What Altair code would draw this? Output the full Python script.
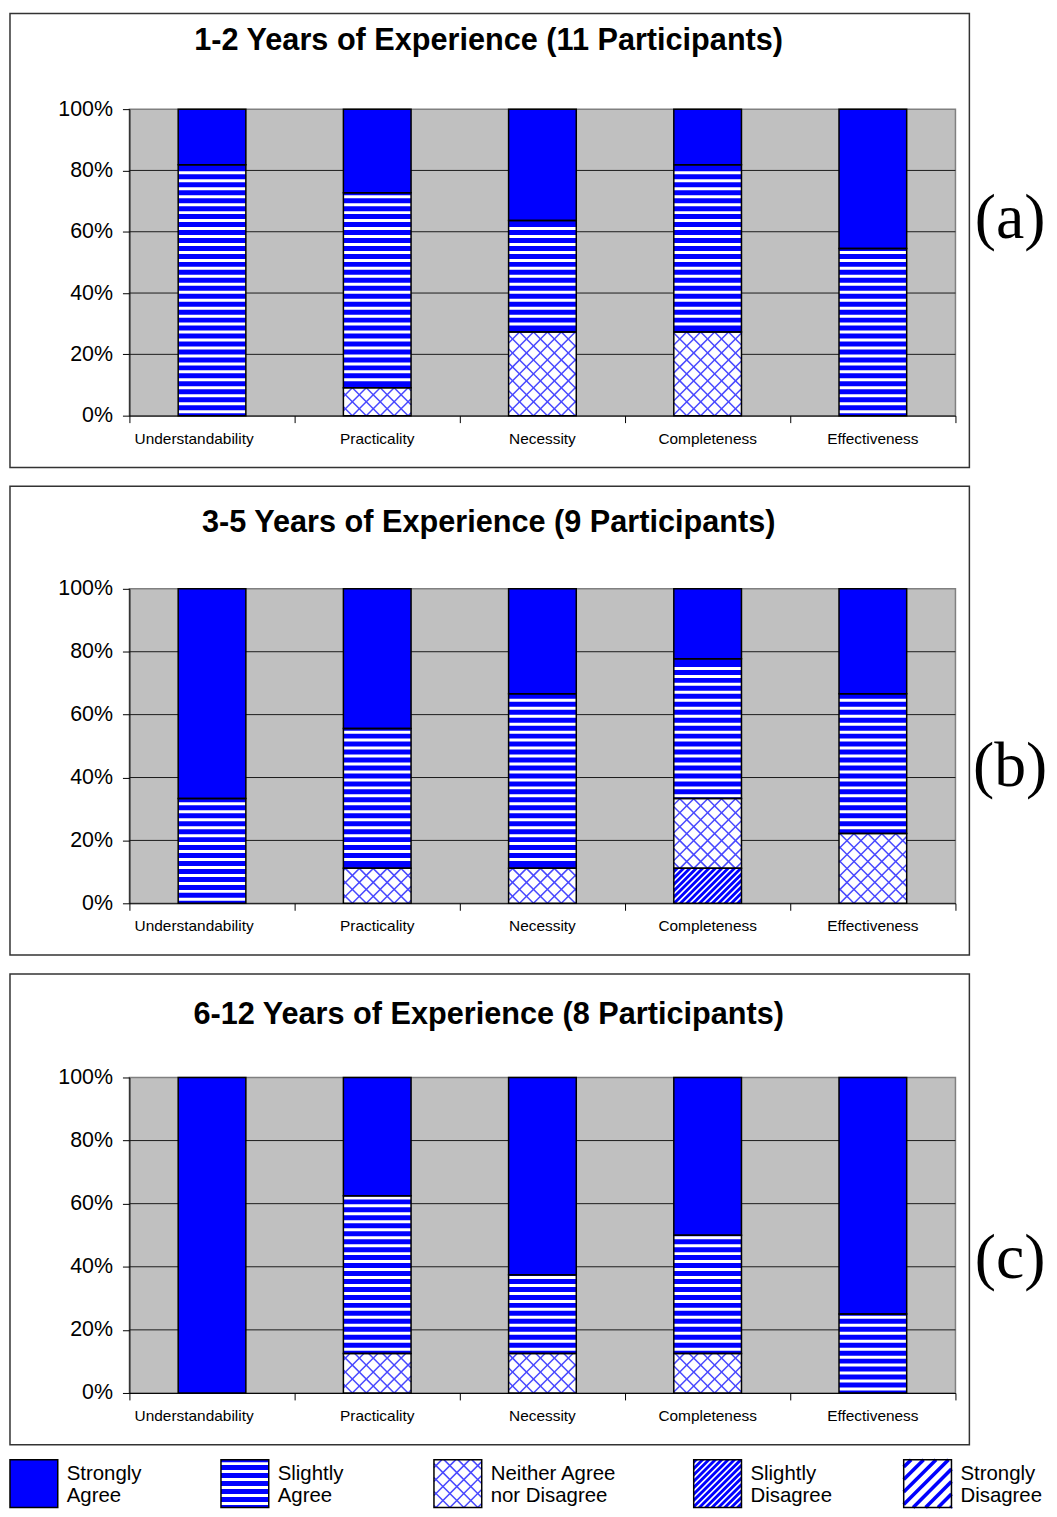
import math
import altair as alt
import pandas as pd

# ---------------- data ----------------
categories = ["Understandability", "Practicality", "Necessity", "Completeness", "Effectiveness"]
levels = ["Strongly Agree", "Slightly Agree", "Neither Agree nor Disagree",
          "Slightly Disagree", "Strongly Disagree"]
legend_labels = ["Strongly\nAgree", "Slightly\nAgree", "Neither Agree\nnor Disagree",
                 "Slightly\nDisagree", "Strongly\nDisagree"]
panel_titles = ["1-2 Years of Experience (11 Participants)",
                "3-5 Years of Experience (9 Participants)",
                "6-12 Years of Experience (8 Participants)"]
panel_tags = ["(a)", "(b)", "(c)"]
participants = [11, 9, 8]
y_ticks = [0, 20, 40, 60, 80, 100]

# number of participants giving each answer, per category
a_strongly_agree = [2, 3, 4, 2, 5]
a_slightly_agree = [9, 7, 4, 6, 6]
a_neither = [0, 1, 3, 3, 0]
a_slightly_disagree = [0, 0, 0, 0, 0]
a_strongly_disagree = [0, 0, 0, 0, 0]

b_strongly_agree = [6, 4, 3, 2, 3]
b_slightly_agree = [3, 4, 5, 4, 4]
b_neither = [0, 1, 1, 2, 2]
b_slightly_disagree = [0, 0, 0, 1, 0]
b_strongly_disagree = [0, 0, 0, 0, 0]

c_strongly_agree = [8, 3, 5, 4, 6]
c_slightly_agree = [0, 4, 2, 3, 2]
c_neither = [0, 1, 1, 1, 0]
c_slightly_disagree = [0, 0, 0, 0, 0]
c_strongly_disagree = [0, 0, 0, 0, 0]

responses = [
    [a_strongly_agree, a_slightly_agree, a_neither, a_slightly_disagree, a_strongly_disagree],
    [b_strongly_agree, b_slightly_agree, b_neither, b_slightly_disagree, b_strongly_disagree],
    [c_strongly_agree, c_slightly_agree, c_neither, c_slightly_disagree, c_strongly_disagree],
]

# ---------------- layout / style ----------------
FONT = "Liberation Sans"
SERIF = "Liberation Serif"
BLUE = "#0000FF"
fills = [BLUE, BLUE, "#FFFFFF", BLUE, "#FFFFFF"]
PLOT_W = 830
PLOT_H = [308, 316, 317]
BAR_PX = 68
FRAME_LEFT, FRAME_RIGHT = -120, 844
FRAME_TOP = [-96, -103, -104]
FRAME_BELOW = 52
TITLE_X = 361
TITLE_BASE = [-59, -57, -54]
TAG_X = 885
TAG_BASE = [129, 198, 201]
LEG_X = [-120, 92, 306, 567, 778]
SW = 48
FIRST_LABEL_DX = -18

PATTERN_STYLE = {
    "h": dict(color="#FFFFFF", strokeWidth=3.0),
    "x": dict(color="#4848FF", strokeWidth=1.5),
    "sd": dict(color="#FFFFFF", strokeWidth=1.6),
    "std": dict(color=BLUE, strokeWidth=3.6),
}


def diag(x0, x1, y0, y1, p, d):
    segs = []
    if d == "/":
        lo, hi = x0 - y1, x1 - y0
        for k in range(math.ceil(lo / p), math.floor(hi / p) + 1):
            c = k * p
            xa, xb = max(x0, y0 + c), min(x1, y1 + c)
            if xb - xa > 0.3:
                segs.append((xa, xa - c, xb, xb - c))
    else:
        lo, hi = x0 + y0, x1 + y1
        for k in range(math.ceil(lo / p), math.floor(hi / p) + 1):
            c = k * p
            xa, xb = max(x0, c - y1), min(x1, c - y0)
            if xb - xa > 0.3:
                segs.append((xa, c - xa, xb, c - xb))
    return segs


def pattern_px(level, x0, x1, y0, y1):
    """Pattern strokes inside a rectangle, in pixel units with y pointing up."""
    out = []
    if level == "Slightly Agree":
        k = math.ceil((y0 + 2.0 - 4) / 8)
        while 4 + 8 * k <= y1 - 2.0:
            yc = 4 + 8 * k
            out.append(("h", x0, yc, x1, yc))
            k += 1
    elif level == "Neither Agree nor Disagree":
        out += [("x",) + s for s in diag(x0, x1, y0, y1, 14, "/")]
        out += [("x",) + s for s in diag(x0, x1, y0, y1, 14, "\\")]
    elif level == "Slightly Disagree":
        out += [("sd",) + s for s in diag(x0, x1, y0, y1, 6.4, "/")]
    elif level == "Strongly Disagree":
        out += [("std",) + s for s in diag(x0, x1, y0, y1, 12.5, "/")]
    return out


color_enc = alt.Color("level:N", scale=alt.Scale(domain=levels, range=fills), legend=None)
one = pd.DataFrame({"k": [0]})


def panel_chart(i):
    n = participants[i]
    h = PLOT_H[i]
    px_x = PLOT_W / 5
    px_y = h / 100
    half = BAR_PX / 2 / px_x
    seg_rows = []
    pat = {k: [] for k in PATTERN_STYLE}
    for ci, cat in enumerate(categories):
        pos = ci + 0.5
        cum = 0
        for li in reversed(range(len(levels))):
            c = responses[i][li][ci]
            if c == 0:
                continue
            y0 = cum / n * 100
            cum += c
            y1 = cum / n * 100
            xl, xr = pos - half, pos + half
            seg_rows.append(dict(category=cat, level=levels[li], xl=xl, xr=xr, y0=y0, y1=y1))
            for kind, xa, ya, xb, yb in pattern_px(levels[li], xl * px_x, xr * px_x,
                                                   y0 * px_y, y1 * px_y):
                pat[kind].append(dict(x=xa / px_x, x2=xb / px_x, y=ya / px_y, y2=yb / px_y))
    seg_df = pd.DataFrame(seg_rows)

    xs = alt.Scale(domain=[0, 5], nice=False, zero=False)
    ys = alt.Scale(domain=[0, 100], nice=False, zero=False)
    x_axis = alt.Axis(values=[0, 1, 2, 3, 4, 5], labels=False, ticks=True, tickSize=7,
                      tickColor="black", domainColor="black", tickWidth=1, domainWidth=1,
                      grid=False, title=None)
    y_axis = alt.Axis(values=y_ticks, labelExpr="datum.value + '%'", tickSize=7,
                      tickColor="black", domainColor="black", tickWidth=1, domainWidth=1,
                      labelFont=FONT, labelFontSize=21.5, labelColor="black",
                      labelPadding=10, grid=False, title=None)

    def X(f):
        return alt.X(f, scale=xs, axis=x_axis)

    def Y(f):
        return alt.Y(f, scale=ys, axis=y_axis)

    frame = alt.Chart(one).mark_rect(fillOpacity=0, stroke="#333333", strokeWidth=1.5).encode(
        x=alt.value(FRAME_LEFT), x2=alt.value(FRAME_RIGHT),
        y=alt.value(FRAME_TOP[i]), y2=alt.value(h + FRAME_BELOW))
    grid = alt.Chart(pd.DataFrame({"v": y_ticks[1:-1]})).mark_rule(
        color="#1a1a1a", strokeWidth=1).encode(y=Y("v:Q"))
    bars = alt.Chart(seg_df).mark_rect(strokeWidth=0).encode(
        x=X("xl:Q"), x2="xr:Q", y=Y("y0:Q"), y2="y1:Q", color=color_enc)
    pattern_layers = []
    for kind, rows in pat.items():
        if not rows:
            continue
        pattern_layers.append(
            alt.Chart(pd.DataFrame(rows)).mark_rule(**PATTERN_STYLE[kind]).encode(
                x=X("x:Q"), x2="x2:Q", y=Y("y:Q"), y2="y2:Q"))
    outline = alt.Chart(seg_df).mark_rect(fillOpacity=0, stroke="black", strokeWidth=1.5).encode(
        x=X("xl:Q"), x2="xr:Q", y=Y("y0:Q"), y2="y1:Q")
    lab_df = pd.DataFrame({"category": categories, "pos": [k + 0.5 for k in range(len(categories))]})
    lab_style = dict(font=FONT, fontSize=15.5, align="center", baseline="alphabetic", color="black")
    labels_first = alt.Chart(lab_df.iloc[:1]).mark_text(dx=FIRST_LABEL_DX, **lab_style).encode(
        x=X("pos:Q"), y=alt.value(h + 28), text="category:N")
    labels_rest = alt.Chart(lab_df.iloc[1:]).mark_text(**lab_style).encode(
        x=X("pos:Q"), y=alt.value(h + 28), text="category:N")
    title = alt.Chart(one).mark_text(font=FONT, fontSize=30.8, fontWeight="bold", align="center",
                                     baseline="alphabetic", color="black").encode(
        x=alt.value(TITLE_X), y=alt.value(TITLE_BASE[i]), text=alt.value(panel_titles[i]))
    tag = alt.Chart(one).mark_text(font=SERIF, fontSize=64, align="center",
                                   baseline="alphabetic", color="black").encode(
        x=alt.value(TAG_X), y=alt.value(TAG_BASE[i]), text=alt.value(panel_tags[i]))

    return alt.layer(frame, grid, bars, *pattern_layers, outline, labels_first, labels_rest,
                     title, tag).properties(
        width=PLOT_W, height=h,
        view=alt.ViewBackground(fill="#C0C0C0", stroke="#808080", strokeWidth=1.5))


def legend_chart():
    sw_rows, pat = [], {k: [] for k in PATTERN_STYLE}
    for li, lv in enumerate(levels):
        x0 = LEG_X[li]
        sw_rows.append(dict(level=lv, x=x0, x2=x0 + SW, y=0, y2=SW,
                            label=legend_labels[li], tx=x0 + SW + 9))
        for kind, xa, ya, xb, yb in pattern_px(lv, x0, x0 + SW, 0, SW):
            pat[kind].append(dict(x=xa, x2=xb, y=SW - ya, y2=SW - yb))
    df = pd.DataFrame(sw_rows)
    ident = dict(scale=None, axis=None)
    sw = alt.Chart(df).mark_rect(strokeWidth=0).encode(
        x=alt.X("x:Q", **ident), x2="x2:Q", y=alt.Y("y:Q", **ident), y2="y2:Q",
        color=color_enc)
    layers = [sw]
    for kind, rows in pat.items():
        if not rows:
            continue
        layers.append(alt.Chart(pd.DataFrame(rows)).mark_rule(**PATTERN_STYLE[kind]).encode(
            x=alt.X("x:Q", **ident), x2="x2:Q", y=alt.Y("y:Q", **ident), y2="y2:Q"))
    layers.append(alt.Chart(df).mark_rect(fillOpacity=0, stroke="black", strokeWidth=1.5).encode(
        x=alt.X("x:Q", **ident), x2="x2:Q", y=alt.Y("y:Q", **ident), y2="y2:Q"))
    layers.append(alt.Chart(df).mark_text(font=FONT, fontSize=20.5, align="left",
                                          baseline="alphabetic", lineBreak="\n",
                                          lineHeight=23, color="black").encode(
        x=alt.X("tx:Q", **ident), y=alt.value(20), text="label:N"))
    return alt.layer(*layers).properties(width=PLOT_W, height=SW)


panels = alt.vconcat(panel_chart(0), panel_chart(1), panel_chart(2), spacing=15)
chart = alt.vconcat(panels, legend_chart(), spacing=11).properties(
    padding=0).configure_view(strokeWidth=0)

chart.save("out.html", embed_options={"renderer": "svg", "actions": False})
